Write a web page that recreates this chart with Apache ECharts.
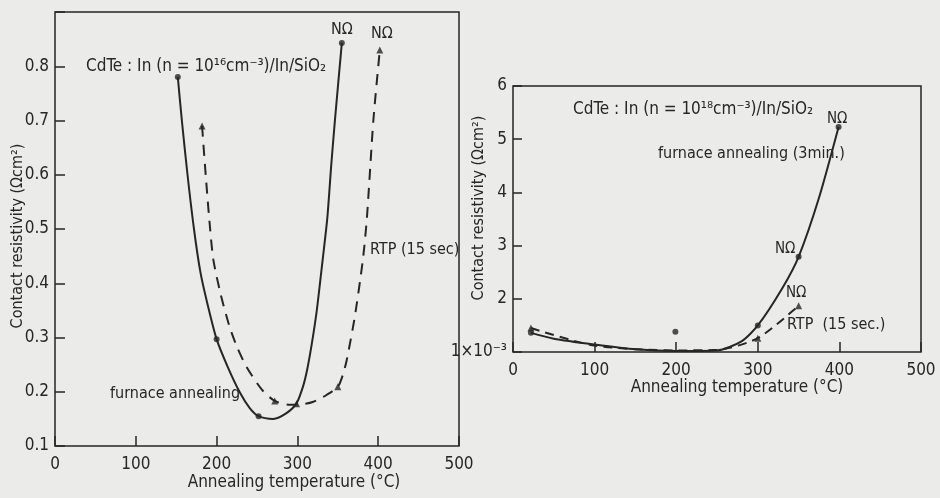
<!DOCTYPE html>
<html>
<head>
<meta charset="utf-8">
<script src="https://cdn.jsdelivr.net/npm/echarts@6/dist/echarts.min.js"></script>
<style>
  html, body { margin: 0; padding: 0; background: #ebebe9; }
  #chart { width: 940px; height: 498px; }
</style>
</head>
<body>
<div id="chart"></div>
<script>
// left panel: CdTe:In n=1e16, contact resistivity (Ohm cm2) vs annealing temperature
var leftFurnace = [[152, 0.78], [157, 0.7], [164, 0.6], [172, 0.5], [180, 0.42], [189, 0.36], [200, 0.297], [214, 0.245], [229, 0.198], [241, 0.17], [252, 0.155], [270, 0.15], [286, 0.16], [299, 0.179], [307, 0.21], [312, 0.24], [318, 0.29], [324, 0.35], [331, 0.44], [337, 0.52], [342, 0.62], [347, 0.71], [355, 0.843]];
var leftFurnaceDots = [[152, 0.78], [200, 0.297], [252, 0.155], [355, 0.843]];
var leftRtp = [[182, 0.69], [187, 0.59], [192, 0.5], [196, 0.443], [205, 0.38], [216, 0.32], [226, 0.28], [237, 0.246], [256, 0.204], [272, 0.183], [291, 0.176], [306, 0.177], [319, 0.181], [336, 0.194], [350, 0.209], [356, 0.23], [361, 0.258], [371, 0.338], [381, 0.443], [386, 0.52], [394, 0.7], [402, 0.83]];
var leftRtpMarks = [[182, 0.69], [272, 0.183], [299, 0.178], [350, 0.209], [402, 0.83]];

// right panel: CdTe:In n=1e18, values in units of 1e-3 Ohm cm2
var rightFurnace = [[22, 1.36], [50, 1.25], [100, 1.14], [150, 1.05], [200, 1.02], [250, 1.03], [280, 1.2], [300, 1.5], [330, 2.2], [350, 2.79], [375, 3.9], [399, 5.23]];
var rightFurnaceDots = [[22, 1.36], [300, 1.5], [350, 2.79], [399, 5.23], [199, 1.38]];
var rightRtp = [[22, 1.45], [100, 1.12], [200, 1.03], [250, 1.04], [300, 1.26], [350, 1.87]];
var rightRtpMarks = [[22, 1.45], [300, 1.26], [350, 1.87]];

var xTicks = [0, 100, 200, 300, 400, 500];

var ink = '#262626';
var font = '"DejaVu Sans Condensed", "DejaVu Sans", sans-serif';

var chart = echarts.init(document.getElementById('chart'), null, { renderer: 'canvas' });

function xAxis(grid) {
  return {
    type: 'value', gridIndex: grid, min: xTicks[0], max: xTicks[xTicks.length - 1], interval: 100,
    axisLine: { show: false },
    axisTick: { inside: true, length: 10, lineStyle: { color: ink, width: 1.5 } },
    axisLabel: { color: ink, fontSize: 17, fontFamily: font, margin: 10 },
    splitLine: { show: false }
  };
}

function curve(xi, data, dash) {
  return {
    type: 'line', xAxisIndex: xi, yAxisIndex: xi, data: data,
    smooth: 0.25, showSymbol: false,
    lineStyle: { color: ink, width: 2, type: dash || 'solid' }
  };
}

function marks(xi, data, symbol) {
  return {
    type: 'scatter', xAxisIndex: xi, yAxisIndex: xi, data: data,
    symbol: symbol, symbolSize: symbol === 'triangle' ? 7 : 6, itemStyle: { color: ink }
  };
}

chart.setOption({
  backgroundColor: '#ebebe9',
  animation: false,
  grid: [
    { left: 55, top: 12, width: 404, height: 434, show: true, borderColor: ink, borderWidth: 1.5, backgroundColor: 'transparent' },
    { left: 513, top: 86, width: 408, height: 266, show: true, borderColor: ink, borderWidth: 1.5, backgroundColor: 'transparent' }
  ],
  xAxis: [xAxis(0), xAxis(1)],
  yAxis: [
    {
      type: 'value', gridIndex: 0, min: 0.1, max: 0.9, interval: 0.1,
      axisLine: { show: false },
      axisTick: { inside: true, length: 10, lineStyle: { color: ink, width: 1.5 } },
      axisLabel: {
        color: ink, fontSize: 17, fontFamily: font, margin: 6,
        formatter: function (v) { return v > 0.85 ? '' : v.toFixed(1); }
      },
      splitLine: { show: false }
    },
    {
      type: 'value', gridIndex: 1, min: 1, max: 6, interval: 1,
      axisLine: { show: false },
      axisTick: { inside: true, length: 9, lineStyle: { color: ink, width: 1.5 } },
      axisLabel: {
        color: ink, fontSize: 17, fontFamily: font, margin: 6,
        formatter: function (v) { return v === 1 ? '1×10⁻³' : String(v); }
      },
      splitLine: { show: false }
    }
  ],
  series: [
    curve(0, leftFurnace),
    curve(0, leftRtp, [11, 8]),
    marks(0, leftFurnaceDots, 'circle'),
    marks(0, leftRtpMarks, 'triangle'),
    curve(1, rightFurnace),
    curve(1, rightRtp, [9, 6]),
    marks(1, rightFurnaceDots, 'circle'),
    marks(1, rightRtpMarks, 'triangle')
  ],
  graphic: [
    // left panel texts
    { type: 'text', left: 86, top: 58, style: { text: 'CdTe : In (n = 10¹⁶cm⁻³)/In/SiO₂', font: '17px ' + font, fill: ink } },
    { type: 'text', left: 110, top: 386, style: { text: 'furnace annealing', font: '16px ' + font, fill: ink } },
    { type: 'text', left: 370, top: 242, style: { text: 'RTP (15 sec)', font: '16px ' + font, fill: ink } },
    { type: 'text', left: 331, top: 22, style: { text: 'NΩ', font: '16px ' + font, fill: ink } },
    { type: 'text', left: 371, top: 26, style: { text: 'NΩ', font: '16px ' + font, fill: ink } },
    { type: 'text', x: 18, y: 236, rotation: Math.PI / 2, style: { text: 'Contact resistivity (Ωcm²)', font: '16px ' + font, fill: ink, align: 'center', verticalAlign: 'middle' } },
    { type: 'text', x: 294, y: 483, style: { text: 'Annealing temperature (°C)', font: '17px ' + font, fill: ink, align: 'center', verticalAlign: 'middle' } },
    // right panel texts
    { type: 'text', left: 573, top: 101, style: { text: 'CdTe : In (n = 10¹⁸cm⁻³)/In/SiO₂', font: '17px ' + font, fill: ink } },
    { type: 'text', left: 658, top: 146, style: { text: 'furnace annealing (3min.)', font: '16px ' + font, fill: ink } },
    { type: 'text', left: 827, top: 112, style: { text: 'NΩ', font: '15px ' + font, fill: ink } },
    { type: 'text', left: 775, top: 242, style: { text: 'NΩ', font: '15px ' + font, fill: ink } },
    { type: 'text', left: 786, top: 286, style: { text: 'NΩ', font: '15px ' + font, fill: ink } },
    { type: 'text', left: 787, top: 317, style: { text: 'RTP  (15 sec.)', font: '16px ' + font, fill: ink } },
    { type: 'text', x: 479, y: 208, rotation: Math.PI / 2, style: { text: 'Contact resistivity (Ωcm²)', font: '16px ' + font, fill: ink, align: 'center', verticalAlign: 'middle' } },
    { type: 'text', x: 737, y: 388, style: { text: 'Annealing temperature (°C)', font: '17px ' + font, fill: ink, align: 'center', verticalAlign: 'middle' } }
  ]
});
</script>
</body>
</html>
